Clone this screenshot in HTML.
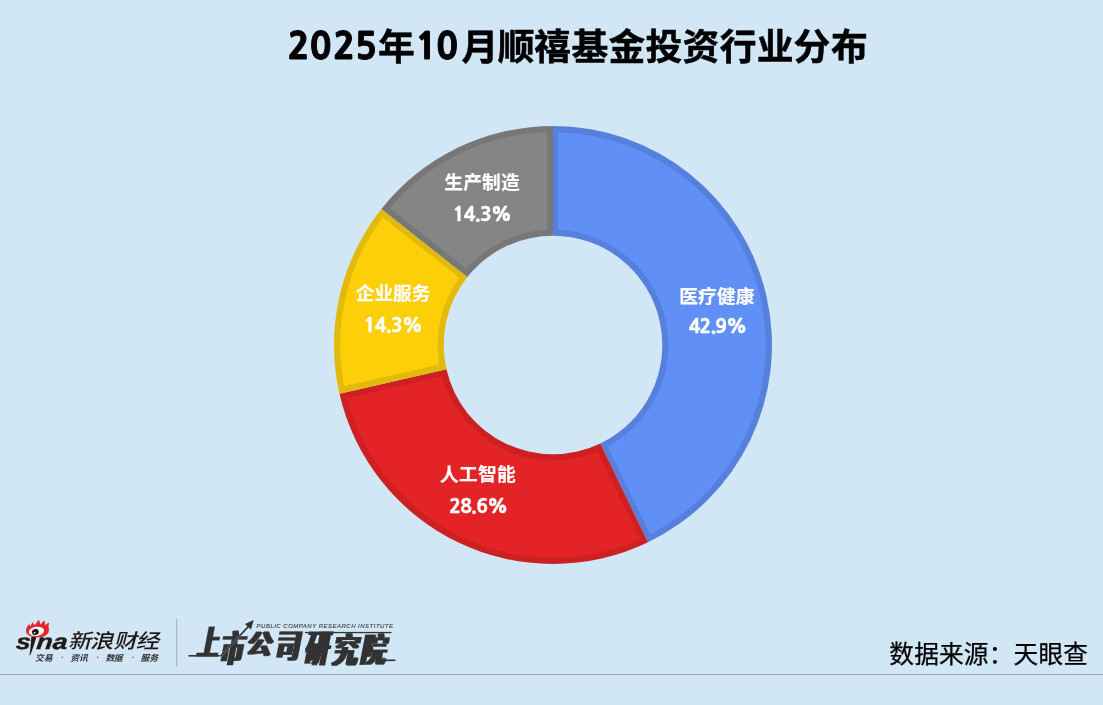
<!DOCTYPE html>
<html lang="zh-CN">
<head>
<meta charset="utf-8">
<title>2025年10月顺禧基金投资行业分布</title>
<style>
html,body{margin:0;padding:0;background:#d2e7f6;}
body{width:1103px;height:705px;overflow:hidden;position:relative;font-family:"Liberation Sans","Noto Sans CJK SC",sans-serif;}
svg{position:absolute;left:0;top:0;display:block;}
</style>
</head>
<body>
<svg width="1103" height="705" viewBox="0 0 1103 705">
<defs>
<filter id="thick" x="-5%" y="-5%" width="110%" height="110%" filterUnits="objectBoundingBox"><feMorphology operator="dilate" radius="2 0"/></filter>
</defs>
<rect x="0" y="0" width="1103" height="705" fill="#d2e7f6"/>
<text x="287.80 309.52 333.35 354.95 378.10 415.44 436.12 461.43 497.72 534.09 571.45 608.41 645.49 682.43 719.76 756.70 793.61 830.95" y="58.50 58.50 58.50 58.50 60.20 58.50 58.50 60.20 60.20 60.20 60.20 60.20 60.20 60.20 60.20 60.20 60.20 60.20" style="font-family:'Noto Sans CJK SC','Liberation Sans',sans-serif;font-weight:700;font-size:36.8px;fill:#000;stroke:#000;stroke-width:0.5px;stroke-linejoin:round" ><tspan style="font-family:'NanumGothic','Liberation Sans',sans-serif;font-weight:800;font-size:35.8px;stroke-width:0.9px">2025</tspan>年<tspan style="font-family:'NanumGothic','Liberation Sans',sans-serif;font-weight:800;font-size:35.8px;stroke-width:0.9px">10</tspan>月顺禧基金投资行业分布</text>
<path d="M553.00 126.00A219.0 219.0 0 0 1 648.02 542.31L600.42 443.48A109.3 109.3 0 0 0 553.00 235.70Z" fill="#5680dc"/>
<path d="M558.10 132.26A212.8 212.8 0 0 1 649.99 534.41L607.70 446.61A115.39999999999999 115.39999999999999 0 0 0 558.10 229.71Z" fill="#6090f5"/>
<path d="M648.02 542.31A219.0 219.0 0 0 1 339.49 393.73L446.44 369.32A109.3 109.3 0 0 0 600.42 443.48Z" fill="#cc2022"/>
<path d="M639.98 539.21A212.8 212.8 0 0 1 346.88 397.89L441.90 376.20A115.39999999999999 115.39999999999999 0 0 0 597.69 451.40Z" fill="#e42326"/>
<path d="M339.49 393.73A219.0 219.0 0 0 1 381.37 208.97L467.34 277.11A109.3 109.3 0 0 0 446.44 369.32Z" fill="#e3ba0b"/>
<path d="M344.22 386.19A212.8 212.8 0 0 1 382.87 217.17L459.25 277.71A115.39999999999999 115.39999999999999 0 0 0 439.26 364.50Z" fill="#fccf08"/>
<path d="M381.37 208.97A219.0 219.0 0 0 1 553.00 126.00L553.00 235.70A109.3 109.3 0 0 0 467.34 277.11Z" fill="#777777"/>
<path d="M390.02 208.17A212.8 212.8 0 0 1 547.20 132.28L547.20 229.75A115.39999999999999 115.39999999999999 0 0 0 466.41 268.71Z" fill="#858585"/>
<text x="679.30" y="302.50" style="font-family:'Noto Sans CJK SC','Liberation Sans',sans-serif;font-weight:700;font-size:18.7px;fill:#fff;stroke:#fff;stroke-width:0.2px;letter-spacing:0.133px" >医疗健康</text>
<text transform="matrix(1.0700 0.0000 0.0000 1.0000 0 0)" x="643.79" y="333.35" style="font-family:'NanumGothic','Liberation Sans',sans-serif;font-weight:800;font-size:18.0px;fill:#fff;stroke:#fff;stroke-width:0.3px;letter-spacing:-0.842px" >42.9%</text>
<text x="439.90" y="481.15" style="font-family:'Noto Sans CJK SC','Liberation Sans',sans-serif;font-weight:700;font-size:18.7px;fill:#fff;stroke:#fff;stroke-width:0.2px;letter-spacing:0.367px" >人工智能</text>
<text transform="matrix(1.0700 0.0000 0.0000 1.0000 0 0)" x="419.95" y="512.75" style="font-family:'NanumGothic','Liberation Sans',sans-serif;font-weight:800;font-size:18.0px;fill:#fff;stroke:#fff;stroke-width:0.3px;letter-spacing:-0.725px" >28.6%</text>
<text x="355.80" y="299.95" style="font-family:'Noto Sans CJK SC','Liberation Sans',sans-serif;font-weight:700;font-size:18.7px;fill:#fff;stroke:#fff;stroke-width:0.2px;letter-spacing:-0.034px" >企业服务</text>
<text transform="matrix(1.0700 0.0000 0.0000 1.0000 0 0)" x="339.95" y="331.75" style="font-family:'NanumGothic','Liberation Sans',sans-serif;font-weight:800;font-size:18.0px;fill:#fff;stroke:#fff;stroke-width:0.3px;letter-spacing:-0.630px" >14.3%</text>
<text x="444.35" y="189.15" style="font-family:'Noto Sans CJK SC','Liberation Sans',sans-serif;font-weight:700;font-size:18.7px;fill:#fff;stroke:#fff;stroke-width:0.2px;letter-spacing:0.167px" >生产制造</text>
<text transform="matrix(1.0700 0.0000 0.0000 1.0000 0 0)" x="423.13" y="220.75" style="font-family:'NanumGothic','Liberation Sans',sans-serif;font-weight:800;font-size:18.0px;fill:#fff;stroke:#fff;stroke-width:0.3px;letter-spacing:-0.630px" >14.3%</text>
<g id="logo-sina" aria-label="sina 新浪财经 交易·资讯·数据·服务">
<text transform="matrix(1.22 0 -0.1 1 0 0)" style="font-family:'Liberation Sans',sans-serif;font-weight:700;font-style:italic;fill:#231815;stroke:#231815;stroke-width:0.45px"><tspan x="65.98" y="648.78" font-size="21.65">s</tspan><tspan x="77.69" y="645.67" font-size="15.00" stroke-width="0">i</tspan><tspan x="82.80" y="648.89" font-size="21.65">n</tspan><tspan x="95.96" y="648.78" font-size="21.65">a</tspan></text>
<path d="M31.3 637.0 L36.3 637.0 C34.6 643.5 32.4 650 30.1 655.5 L29.5 655.3 C30.4 649.5 31 643 31.3 637.0 Z" fill="#231815"/>
<path d="M26.4 631.5 L27.0 627.6 L29.0 624.7 L30.5 627.0 L32.6 622.7 L34.5 626.0 L38.7 620.3 L40.3 625.2 L44.1 621.0 L45.0 625.8 L48.5 623.0 L48.1 626.5 C48.6 628 48.7 630.5 48.1 632.3 C46.6 635.6 42.5 637.0 37.5 637.0 C31.5 637.0 26.8 635 26.4 631.5 Z" fill="#e8222a" stroke="#e8222a" stroke-width="0.8" stroke-linejoin="round"/>
<ellipse cx="36.45" cy="631.4" rx="7.6" ry="4.6" transform="rotate(-6 36.45 631.4)" fill="#ffffff"/>
<ellipse cx="35.4" cy="632" rx="3.4" ry="3.1" transform="rotate(-25 35.4 632)" fill="#1a1311"/>
<circle cx="34.6" cy="632.8" r="0.9" fill="#ffffff"/>
<text transform="matrix(1.1700 0.0000 -0.2679 1.0000 0 0)" x="206.51 225.37 245.37 264.36" y="648.06 647.96 647.96 648.21" style="font-family:'Noto Sans CJK SC','Liberation Sans',sans-serif;font-weight:500;font-size:19.9px;fill:#231815" >新浪财经</text>
<text transform="matrix(1.0400 0.0000 -0.2679 1.0000 0 0)" x="203.99 212.29 226.83 237.89 246.28 260.97 271.65 279.64 294.91 305.35 313.81" y="660.87 660.62 659.42 660.79 660.74 659.42 660.81 660.83 659.42 660.68 660.85" style="font-family:'Noto Sans CJK SC','Liberation Sans',sans-serif;font-weight:700;font-size:8.5px;fill:#332e2c" >交易<tspan style="font-size:4.8px">·</tspan>资讯<tspan style="font-size:4.8px">·</tspan>数据<tspan style="font-size:4.8px">·</tspan>服务</text>
</g>
<rect x="176.2" y="619" width="1.1" height="47.5" fill="#a4b0bd"/>
<g id="logo-inst" aria-label="上市公司研究院 PUBLIC COMPANY RESEARCH INSTITUTE">
<g filter="url(#thick)"><text transform="matrix(1.0000 0.0000 -0.1944 1.0000 0 0)" style="font-family:'Noto Sans CJK SC','Liberation Sans',sans-serif;font-weight:500;fill:#333333;stroke:#333333;stroke-width:0.3px;stroke-linejoin:miter" ><tspan x="324.74" y="655.45" font-size="33.96" textLength="19.47" lengthAdjust="spacingAndGlyphs">上</tspan><tspan x="347.90" y="662.37" font-size="36.86" textLength="22.48" lengthAdjust="spacingAndGlyphs">市</tspan><tspan x="373.43" y="654.37" font-size="27.28" textLength="24.16" lengthAdjust="spacingAndGlyphs">公</tspan><tspan x="402.57" y="658.45" font-size="33.95" textLength="23.77" lengthAdjust="spacingAndGlyphs">司</tspan><tspan x="432.70" y="662.35" font-size="38.28" textLength="23.0" lengthAdjust="spacingAndGlyphs">研</tspan><tspan x="460.72" y="663.50" font-size="35.09" textLength="24.61" lengthAdjust="spacingAndGlyphs">究</tspan><tspan x="489.02" y="662.45" font-size="33.84" textLength="24.02" lengthAdjust="spacingAndGlyphs">院</tspan></text></g>
<rect x="188.5" y="655.0" width="31.5" height="1.6" fill="#333333"/>
<rect x="305" y="631.9" width="86.5" height="1.3" fill="#333333"/>
<rect x="379" y="659.5" width="16.4" height="1.6" fill="#333333"/>
<path d="M219.3 656.6 L247.4 626.3 L244.9 624.0 L253.8 619.9 L250.9 629.5 L248.6 627.4 L221.4 656.6 Z" fill="#333333" stroke="#d2e7f6" stroke-width="0.6" paint-order="stroke"/>
<text x="256.60" y="628.00" style="font-family:'Liberation Sans',sans-serif;font-weight:400;font-style:italic;font-size:6.0px;fill:#484848;stroke:#484848;stroke-width:0.15px;letter-spacing:0.488px" >PUBLIC COMPANY RESEARCH INSTITUTE</text>
</g>
<text x="889.30" y="663.40" style="font-family:'Noto Sans CJK SC','Liberation Sans',sans-serif;font-weight:400;font-size:24.7px;fill:#000;stroke:#000;stroke-width:0.25px;letter-spacing:0.171px" >数据来源：天眼查</text>
<rect x="0" y="674" width="1103" height="1" fill="#a8a8a8"/>
</svg>
</body>
</html>
